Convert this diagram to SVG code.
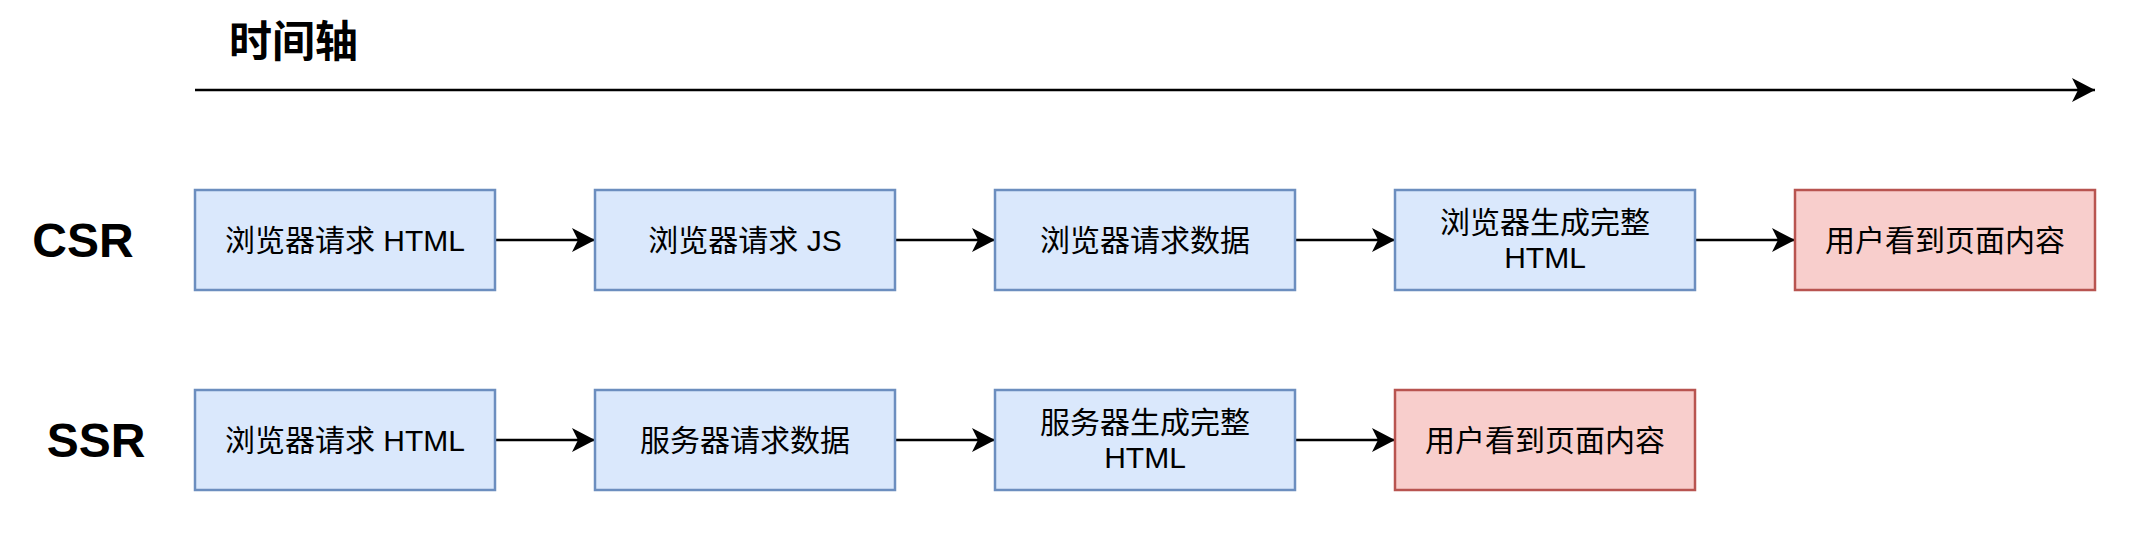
<svg xmlns="http://www.w3.org/2000/svg" width="2142" height="544" viewBox="0 0 2142 544">
<defs>
<style>
.blue{fill:#dae8fc;stroke:#6c8ebf;stroke-width:2.5}
.red{fill:#f8cecc;stroke:#b85450;stroke-width:2.5}
.t{font-family:"Liberation Sans","Noto Sans CJK SC",sans-serif;font-size:30px;fill:#000;text-anchor:middle}
.lbl{font-family:"Liberation Sans","Noto Sans CJK SC",sans-serif;font-size:48px;font-weight:bold;fill:#000;text-anchor:middle}
.title{font-family:"Noto Sans CJK SC",sans-serif;font-size:43px;font-weight:bold;fill:#000}
.edge{stroke:#000;stroke-width:2.5;fill:none;marker-end:url(#arr)}
</style>
<marker id="arr" markerUnits="userSpaceOnUse" markerWidth="26" markerHeight="26" refX="23" refY="12" orient="auto" viewBox="0 0 26 24">
<path d="M0,0 L23,12 L0,24 L6,12 Z" fill="#000"/>
</marker>
</defs>
<rect width="2142" height="544" fill="#fff"/>
<g id="title"><text class="title" x="229" y="57">时间轴</text></g>
<g id="label-csr"><text class="lbl" x="83" y="257">CSR</text></g>
<g id="label-ssr"><text class="lbl" x="96" y="457">SSR</text></g>
<g id="connectors">
<path class="edge" d="M195,90 L2095,90"/>
<path class="edge" d="M495,240 L595,240"/>
<path class="edge" d="M895,240 L995,240"/>
<path class="edge" d="M1295,240 L1395,240"/>
<path class="edge" d="M1695,240 L1795,240"/>
<path class="edge" d="M495,440 L595,440"/>
<path class="edge" d="M895,440 L995,440"/>
<path class="edge" d="M1295,440 L1395,440"/>
</g>
<g id="csr1"><rect class="blue" x="195" y="190" width="300" height="100"/><text class="t" x="345" y="251">浏览器请求 HTML</text></g>
<g id="csr2"><rect class="blue" x="595" y="190" width="300" height="100"/><text class="t" x="745" y="251">浏览器请求 JS</text></g>
<g id="csr3"><rect class="blue" x="995" y="190" width="300" height="100"/><text class="t" x="1145" y="251">浏览器请求数据</text></g>
<g id="csr4"><rect class="blue" x="1395" y="190" width="300" height="100"/><text class="t" x="1545" y="233">浏览器生成完整</text><text class="t" x="1545" y="268">HTML</text></g>
<g id="csr5"><rect class="red" x="1795" y="190" width="300" height="100"/><text class="t" x="1945" y="251">用户看到页面内容</text></g>
<g id="ssr1"><rect class="blue" x="195" y="390" width="300" height="100"/><text class="t" x="345" y="451">浏览器请求 HTML</text></g>
<g id="ssr2"><rect class="blue" x="595" y="390" width="300" height="100"/><text class="t" x="745" y="451">服务器请求数据</text></g>
<g id="ssr3"><rect class="blue" x="995" y="390" width="300" height="100"/><text class="t" x="1145" y="433">服务器生成完整</text><text class="t" x="1145" y="468">HTML</text></g>
<g id="ssr4"><rect class="red" x="1395" y="390" width="300" height="100"/><text class="t" x="1545" y="451">用户看到页面内容</text></g>
</svg>
